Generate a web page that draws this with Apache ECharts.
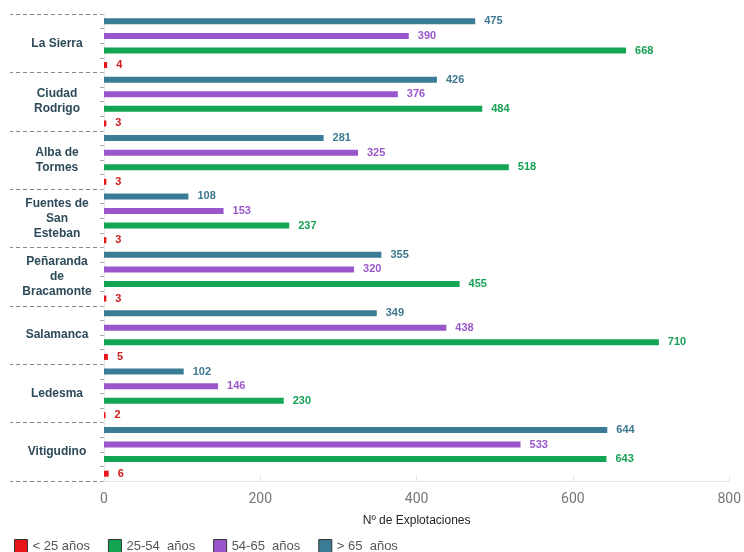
<!DOCTYPE html>
<html><head><meta charset="utf-8">
<script src="https://cdn.jsdelivr.net/npm/echarts@6/dist/echarts.min.js"></script>
<style>html,body{margin:0;padding:0;background:#fff}#c{width:744px;height:552px}</style>
</head><body><div id="c"></div>
<script>
const categories = ['La Sierra', 'Ciudad\nRodrigo', 'Alba de\nTormes', 'Fuentes de\nSan\nEsteban', 'Peñaranda\nde\nBracamonte', 'Salamanca', 'Ledesma', 'Vitigudino'];
const seriesNames = ['< 25 años', '25-54  años', '54-65  años', '> 65  años'];
const under25 = [4, 3, 3, 3, 3, 5, 2, 6];
const from25to54 = [668, 484, 518, 237, 455, 710, 230, 643];
const from54to65 = [390, 376, 325, 153, 320, 438, 146, 533];
const over65 = [475, 426, 281, 108, 355, 349, 102, 644];
const xTicks = [0, 200, 400, 600, 800];

const colors = {'< 25 años': '#e8161b', '25-54  años': '#12a552', '54-65  años': '#9a57cc', '> 65  años': '#3a7c95'};
const labelColors = {'< 25 años': '#d01c1c', '25-54  años': '#16a055', '54-65  años': '#9a57cc', '> 65  años': '#3d7890'};
const dataByName = {'< 25 años': under25, '25-54  años': from25to54, '54-65  años': from54to65, '> 65  años': over65};
const drawOrder = ['> 65  años', '54-65  años', '25-54  años', '< 25 años'];

const minorCats = [];
for (let i = 0; i < categories.length * 4; i++) minorCats.push('m' + i);

const chart = echarts.init(document.getElementById('c'));
chart.setOption({
  animation: false,
  textStyle: {fontFamily: 'Liberation Sans, Arial, sans-serif'},
  grid: {left: 104, right: 14, top: 14, bottom: 71},
  legend: {
    data: seriesNames,
    left: 9, top: 534,
    icon: 'rect', itemWidth: 13, itemHeight: 13, itemGap: 18,
    textStyle: {color: '#555', fontSize: 13},
    itemStyle: {borderColor: '#333', borderWidth: 1}
  },
  xAxis: {
    type: 'value', min: xTicks[0], max: xTicks[xTicks.length - 1], interval: 200,
    name: 'Nº de Explotaciones', nameLocation: 'middle', nameGap: 34,
    nameTextStyle: {color: '#222', fontSize: 12},
    axisLine: {show: true, lineStyle: {color: '#e4e4e4'}},
    axisTick: {show: true, inside: true, length: 5, lineStyle: {color: '#e4e4e4'}},
    axisLabel: {color: '#777', fontSize: 14, margin: 11, fontFamily: 'Roboto, sans-serif'},
    splitLine: {show: false}
  },
  yAxis: [{
    type: 'category', data: categories, inverse: true,
    axisLine: {show: true, lineStyle: {color: '#e8e8e8'}},
    axisTick: {show: true, interval: 0, length: 94, lineStyle: {color: '#7a8a94', type: [4, 3]}},
    axisLabel: {interval: 0, color: '#2d4a5a', fontSize: 12, fontWeight: 'bold', align: 'center', margin: 47, lineHeight: 15}
  }, {
    type: 'category', data: minorCats, inverse: true, position: 'left',
    axisLine: {show: false},
    axisTick: {show: true, interval: 0, length: 4, lineStyle: {color: '#aaa'}},
    axisLabel: {show: false, interval: 0}
  }],
  series: drawOrder.map(name => ({
    name: name, type: 'bar', yAxisIndex: 0,
    data: dataByName[name],
    barWidth: 6, barGap: '143%',
    itemStyle: {color: colors[name]},
    label: {show: true, position: 'right', distance: 9, color: labelColors[name], fontSize: 11, fontWeight: 'bold'}
  }))
});
</script></body></html>
